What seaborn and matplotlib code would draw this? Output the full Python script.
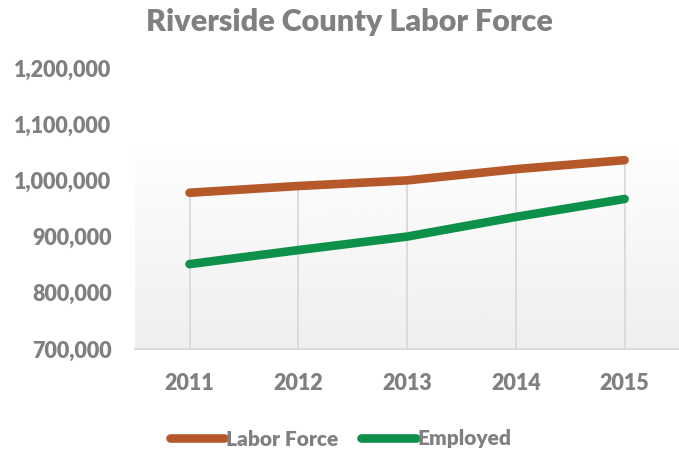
import numpy as np
import pandas as pd
import matplotlib
matplotlib.use("Agg")
import matplotlib.pyplot as plt
import seaborn as sns
from matplotlib.ticker import FuncFormatter

years = ["2011", "2012", "2013", "2014", "2015"]
labor_force = [978000, 990000, 1000000, 1020000, 1036000]
employed = [851000, 876000, 900000, 935000, 967000]
series_names = ["Labor Force", "Employed"]
series_colors = ["#B5592A", "#0D914A"]
y_ticks = [700000, 800000, 900000, 1000000, 1100000, 1200000]

sns.set_theme(style="white")
plt.rcParams["font.family"] = ["Lato", "DejaVu Sans"]
text_gray = "#808080"
weight = "heavy"

df = pd.DataFrame({
    "Year": years * 2,
    "Value": labor_force + employed,
    "Series": [series_names[0]] * len(years) + [series_names[1]] * len(years),
})

fig = plt.figure(figsize=(6.79, 4.49), dpi=100)
ax = fig.add_axes([0.199, 0.2227, 0.801, 0.6259])

# soft vertical gradient behind the plot area
grad = np.linspace(1.0, 0.935, 256).reshape(-1, 1)
ax.imshow(grad, cmap="gray", vmin=0, vmax=1, aspect="auto",
          extent=(-0.5, 4.5, 700000, 1085000), origin="upper", zorder=0)

# drop lines from the top series down to the axis
x_pos = np.arange(len(years))
tops = np.maximum(labor_force, employed)
ax.vlines(x_pos, 700000, tops, color="#D9D9D9", lw=1.3, zorder=1)

sns.lineplot(data=df, x="Year", y="Value", hue="Series",
             palette=series_colors, linewidth=6.2, ax=ax, zorder=3,
             legend=True, sort=False)
for ln in ax.get_lines():
    ln.set_solid_capstyle("round")
    ln.set_solid_joinstyle("round")

ax.set_xlim(-0.5, 4.5)
ax.set_ylim(700000, 1200000)
ax.set_yticks(y_ticks)
ax.yaxis.set_major_formatter(FuncFormatter(lambda v, p: f"{int(v):,}"))
ax.set_xlabel("")
ax.set_ylabel("")
for s in ["top", "right", "left"]:
    ax.spines[s].set_visible(False)
ax.spines["bottom"].set_color("#D9D9D9")
ax.spines["bottom"].set_linewidth(1.3)
ax.tick_params(axis="both", length=0, labelsize=15.5, labelcolor=text_gray)
ax.tick_params(axis="y", pad=17)
ax.tick_params(axis="x", pad=17)
for lab in ax.get_xticklabels() + ax.get_yticklabels():
    lab.set_fontweight(weight)
ax.patch.set_alpha(0)

fig.text(0.514, 0.95, "Riverside County Labor Force", ha="center", va="center",
         fontsize=22, fontweight=weight, color=text_gray)

leg = ax.legend(loc="center", bbox_to_anchor=(0.502, 1 - 439 / 449),
                bbox_transform=fig.transFigure, ncol=2, frameon=False,
                handlelength=2.6, handletextpad=0.1, columnspacing=1.1,
                prop={"size": 15, "weight": weight})
for t in leg.get_texts():
    t.set_color(text_gray)
for h in leg.get_lines():
    h.set_linewidth(6.2)
    h.set_solid_capstyle("round")

fig.savefig("out.png", dpi=100)
